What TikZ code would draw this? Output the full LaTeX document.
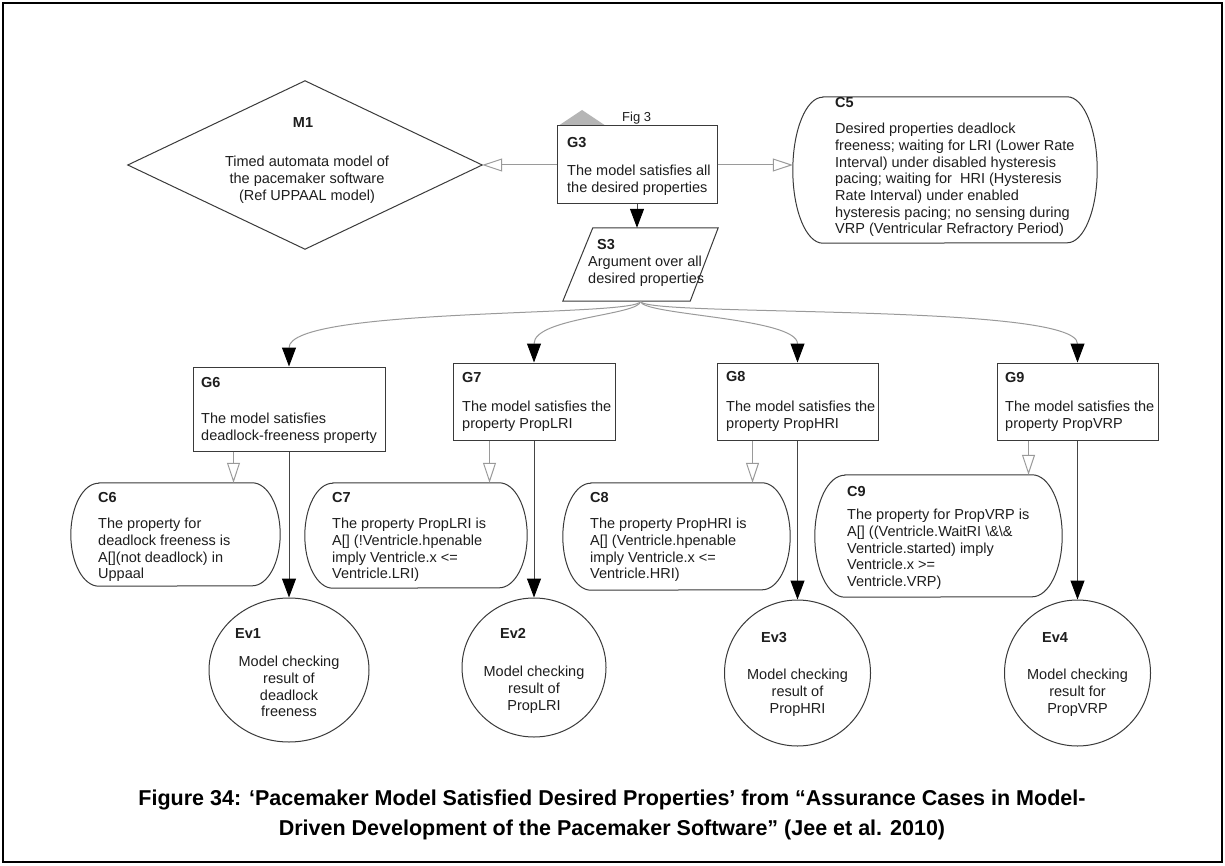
\documentclass[tikz,border=0pt]{standalone}
\usepackage{fontspec}
\setmainfont{Liberation Sans}
\usetikzlibrary{arrows.meta,calc,shapes.geometric}
\definecolor{boxc}{HTML}{3A3A3A}
\definecolor{linkc}{HTML}{9A9A9A}
\definecolor{darkl}{HTML}{454545}
\definecolor{txtc}{HTML}{1E1E1E}
\definecolor{figc}{HTML}{B5B5B5}
\newcommand{\diagfont}{\fontsize{14.5}{16.7}\selectfont}
\newcommand{\capfont}{\fontsize{21.5}{30}\selectfont\bfseries}
\newcommand{\ctxshape}[3]{\draw[boxline] ([xshift=#2]#1.north west) -- ([xshift=-#2]#1.north east) arc[start angle=90,end angle=-90,x radius=#2,y radius=#3] -- ([xshift=#2]#1.south west) arc[start angle=270,end angle=90,x radius=#2,y radius=#3] -- cycle;}
\tikzset{
  boxline/.style={draw=boxc, line width=1pt, fill=white},
  goalbox/.style={draw=boxc, line width=1pt, fill=white, shape=rectangle, inner sep=0pt},
  evbox/.style={draw=boxc, line width=1pt, fill=white, shape=ellipse, inner sep=0pt},
  txt/.style={font=\diagfont, align=left, inner sep=0pt, anchor=north west, text=txtc},
  ctxt/.style={font=\diagfont, align=center, inner sep=0pt, anchor=north, text=txtc},
  lbl/.style={font=\diagfont\bfseries, inner sep=0pt, anchor=base west, text=txtc},
  link/.style={draw=linkc, line width=1pt},
  dlink/.style={draw=darkl, line width=1pt},
  solidtip/.style={-{Triangle[length=19pt,width=14pt,color=black]}},
  opentip/.style={-{Triangle[length=20pt,width=13pt,fill=white,color=linkc]}}
}
\begin{document}
\begin{tikzpicture}[x=1pt,y=-1pt]
\useasboundingbox (0,0) rectangle (1225,866);
\fill[white] (0,0) rectangle (1225,866);
\draw[line width=2.5pt] (3,3) rectangle (1222,862);

% ---------- M1 ----------
\node[shape=rectangle, inner sep=0pt, minimum width=354pt, minimum height=168pt] (M1) at (305,165) {};
\draw[boxline] (M1.west) -- (M1.north) -- (M1.east) -- (M1.south) -- cycle;
\node[lbl, anchor=base] (M1l) at (303,128) {M1};
\node[ctxt] (M1t) at (307,156) {Timed automata model of\\the pacemaker software\\(Ref UPPAAL model)};

% ---------- G3 ----------
\fill[figc] (558,126) -- (582,110) -- (606,126) -- cycle;
\node[font=\fontsize{13}{15}\selectfont, inner sep=0pt, anchor=base west, text=txtc] (fig3) at (622,122) {Fig 3};
\node[goalbox, minimum width=160pt, minimum height=78pt] (G3) at (637,165) {};
\node[lbl] (G3l) at (567,148) {G3};
\node[txt] (G3t) at (567,165) {The model satisfies all\\the desired properties};

% ---------- C5 ----------
\node[shape=rectangle, inner sep=0pt, minimum width=304pt, minimum height=146pt] (C5) at (945,170) {};
\ctxshape{C5}{30pt}{73pt}
\node[lbl] (C5l) at (835,108) {C5};
\node[txt] (C5t) at (835,123) {Desired properties deadlock\\freeness; waiting for LRI (Lower Rate\\Interval) under disabled hysteresis\\pacing; waiting for \ HRI (Hysteresis\\Rate Interval) under enabled\\hysteresis pacing; no sensing during\\VRP (Ventricular Refractory Period)};

% ---------- S3 ----------
\node[shape=rectangle, inner sep=0pt, minimum width=155pt, minimum height=73pt] (S3) at (640.5,264.5) {};
\draw[boxline] ([xshift=30pt]S3.north west) -- (S3.north east) -- ([xshift=-28pt]S3.south east) -- (S3.south west) -- cycle;
\node[lbl] (S3l) at (597,250) {S3};
\node[txt] (S3t) at (588,256) {Argument over all\\desired properties};

% ---------- G6..G9 ----------
\node[goalbox, minimum width=192pt, minimum height=84pt] (G6) at (289,409) {};
\node[lbl] (G6l) at (201,387) {G6};
\node[txt] (G6t) at (201,413) {The model satisfies\\deadlock-freeness property};

\node[goalbox, minimum width=162pt, minimum height=77pt] (G7) at (534,401.5) {};
\node[lbl] (G7l) at (462,382) {G7};
\node[txt] (G7t) at (462,401) {The model satisfies the\\property PropLRI};

\node[goalbox, minimum width=161pt, minimum height=77pt] (G8) at (797.5,401.5) {};
\node[lbl] (G8l) at (726,381) {G8};
\node[txt] (G8t) at (726,401) {The model satisfies the\\property PropHRI};

\node[goalbox, minimum width=161pt, minimum height=77pt] (G9) at (1077.5,401.5) {};
\node[lbl] (G9l) at (1005,382) {G9};
\node[txt] (G9t) at (1005,401) {The model satisfies the\\property PropVRP};

% ---------- C6..C9 ----------
\node[shape=rectangle, inner sep=0pt, minimum width=209pt, minimum height=103pt] (C6) at (175.5,534.5) {};
\ctxshape{C6}{28pt}{51.5pt}
\node[lbl] (C6l) at (98,502) {C6};
\node[txt] (C6t) at (98,518) {The property for\\deadlock freeness is\\A[](not deadlock) in\\Uppaal};

\node[shape=rectangle, inner sep=0pt, minimum width=222pt, minimum height=105pt] (C7) at (416,535.5) {};
\ctxshape{C7}{28pt}{52.5pt}
\node[lbl] (C7l) at (332,502) {C7};
\node[txt] (C7t) at (332,518) {The property PropLRI is\\A[] (!Ventricle.hpenable\\imply Ventricle.x <=\\Ventricle.LRI)};

\node[shape=rectangle, inner sep=0pt, minimum width=227pt, minimum height=107pt] (C8) at (676.5,536.5) {};
\ctxshape{C8}{28pt}{53.5pt}
\node[lbl] (C8l) at (590,502) {C8};
\node[txt] (C8t) at (590,518) {The property PropHRI is\\A[] (Ventricle.hpenable\\imply Ventricle.x <=\\Ventricle.HRI)};

\node[shape=rectangle, inner sep=0pt, minimum width=247pt, minimum height=122pt] (C9) at (938.5,536) {};
\ctxshape{C9}{30pt}{61pt}
\node[lbl] (C9l) at (847,496) {C9};
\node[txt] (C9t) at (847,509) {The property for PropVRP is\\A[] ((Ventricle.WaitRI \textbackslash\&\textbackslash\&\\Ventricle.started) imply\\Ventricle.x >=\\Ventricle.VRP)};

% ---------- Ev1..Ev4 ----------
\node[evbox, minimum width=160pt, minimum height=144pt] (Ev1) at (289,670) {};
\node[lbl] (Ev1l) at (235,638) {Ev1};
\node[ctxt] (Ev1t) at (289,656) {Model checking\\result of\\deadlock\\freeness};

\node[evbox, minimum width=144pt, minimum height=139pt] (Ev2) at (534,667.5) {};
\node[lbl] (Ev2l) at (500,638) {Ev2};
\node[ctxt] (Ev2t) at (534,666) {Model checking\\result of\\PropLRI};

\node[evbox, minimum width=146pt, minimum height=146pt] (Ev3) at (797.5,673) {};
\node[lbl] (Ev3l) at (761,642) {Ev3};
\node[ctxt] (Ev3t) at (797.5,669) {Model checking\\result of\\PropHRI};

\node[evbox, minimum width=146pt, minimum height=146pt] (Ev4) at (1077.5,673) {};
\node[lbl] (Ev4l) at (1042,642) {Ev4};
\node[ctxt] (Ev4t) at (1077.5,669) {Model checking\\result for\\PropVRP};

% ---------- connectors ----------
\draw[link, opentip] (G3.west) -- (M1.east);
\draw[link, opentip] (G3.east) -- (G3.east -| C5.west);
\draw[dlink, solidtip] (G3.south) -- (G3.south |- S3.north);

\draw[link, solidtip] (S3.south) .. controls +(0,16) and +(0,-60) .. (G6.north);
\draw[link, solidtip] (S3.south) .. controls +(0,14) and +(0,-45) .. (G7.north);
\draw[link, solidtip] (S3.south) .. controls +(0,14) and +(0,-45) .. (G8.north);
\draw[link, solidtip] (S3.south) .. controls +(0,16) and +(0,-60) .. (G9.north);

\coordinate (g6c) at ($(G6.south west)+(41,0)$);
\coordinate (g7c) at ($(G7.south west)+(37,0)$);
\coordinate (g8c) at ($(G8.south west)+(36,0)$);
\coordinate (g9c) at ($(G9.south west)+(32,0)$);
\draw[link, opentip] (g6c) -- (g6c |- C6.north);
\draw[link, opentip] (g7c) -- (g7c |- C7.north);
\draw[link, opentip] (g8c) -- (g8c |- C8.north);
\draw[link, opentip] (g9c) -- (g9c |- C9.north);

\draw[dlink, solidtip] (G6.south) -- (Ev1.north);
\draw[dlink, solidtip] (G7.south) -- (Ev2.north);
\draw[dlink, solidtip] (G8.south) -- (Ev3.north);
\draw[dlink, solidtip] (G9.south) -- (Ev4.north);

% ---------- caption ----------
\node[font=\capfont, align=center, inner sep=0pt, text=black] (cap) at (612,815) {Figure 34: ‘Pacemaker Model Satisfied Desired Properties’ from “Assurance Cases in Model-\\Driven Development of the Pacemaker Software” (Jee et al. 2010)};
\end{tikzpicture}
\end{document}
